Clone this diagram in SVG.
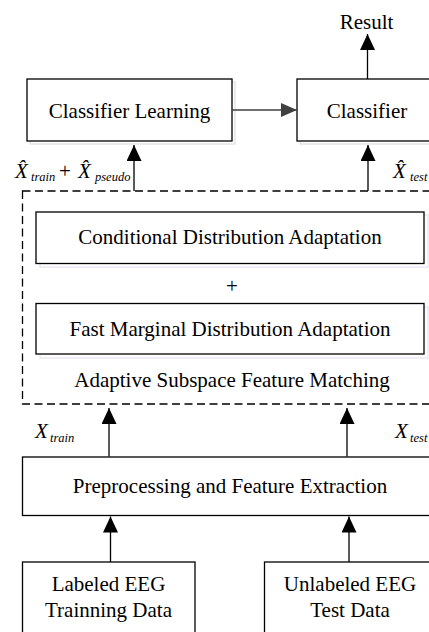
<svg xmlns="http://www.w3.org/2000/svg" width="429" height="632" viewBox="0 0 429 632">
<style>
.box{fill:#fff;stroke:#000;stroke-width:1.3}
.ghost{fill:none;stroke:#d8d8d8;stroke-width:1}
.ghostp{fill:none;stroke:#e4dcf0;stroke-width:1}
.t{font-family:"Liberation Serif","Times New Roman",serif;font-size:21px;fill:#000;text-anchor:middle}
.m{font-family:"Liberation Serif","Times New Roman",serif;font-style:italic;fill:#000;font-size:21px}
.s{font-size:12.5px}
.c{stroke:#000;stroke-width:1.3;fill:none}
</style>
<defs>
<marker id="ah" markerUnits="userSpaceOnUse" markerWidth="16" markerHeight="16" refX="16" refY="7.5" orient="auto">
<path d="M0,0 L16,7.5 L0,15 z" fill="#000"/>
</marker>
<marker id="ahg" markerUnits="userSpaceOnUse" markerWidth="16" markerHeight="16" refX="16" refY="7" orient="auto">
<path d="M0,0 L16,7 L0,14 z" fill="#404040"/>
</marker>
</defs>
<rect width="429" height="632" fill="#fff"/>

<g id="classifier-learning">
<rect class="ghost" x="30" y="82" width="205" height="62"/>
<rect class="box" x="27" y="79" width="205" height="62"/>
<text class="t" x="129.5" y="117.5">Classifier Learning</text>
</g>
<g id="classifier">
<rect class="ghost" x="300" y="82" width="140" height="62"/>
<rect class="box" x="297" y="79" width="140" height="62"/>
<text class="t" x="367" y="117.5">Classifier</text>
</g>
<g id="result">
<text class="t" x="366.5" y="29">Result</text>
</g>

<g id="adaptive-subspace">
<rect x="22.5" y="191" width="416" height="213" fill="none" stroke="#000" stroke-width="1.3" stroke-dasharray="8,4.5"/>
<text class="t" x="232" y="387">Adaptive Subspace Feature Matching</text>
<text class="t" x="232" y="293">+</text>
</g>
<g id="cda">
<rect class="ghostp" x="40" y="215" width="388" height="52"/>
<rect class="box" x="36" y="212" width="388" height="51.5"/>
<text class="t" x="230" y="244">Conditional Distribution Adaptation</text>
</g>
<g id="fmda">
<rect class="ghostp" x="40" y="307" width="388" height="51"/>
<rect class="box" x="36" y="303.5" width="388" height="50.5"/>
<text class="t" x="230" y="335.5">Fast Marginal Distribution Adaptation</text>
</g>

<g id="preprocessing">
<rect class="box" x="22.5" y="457" width="416" height="58.5"/>
<text class="t" x="230" y="493">Preprocessing and Feature Extraction</text>
</g>
<g id="labeled">
<rect class="box" x="22.5" y="562" width="172.5" height="80"/>
<text class="t" x="108.5" y="590.5">Labeled EEG</text>
<text class="t" x="108.5" y="617">Trainning Data</text>
</g>
<g id="unlabeled">
<rect class="box" x="264.5" y="562" width="172" height="80"/>
<text class="t" x="350" y="590.5">Unlabeled EEG</text>
<text class="t" x="350" y="617">Test Data</text>
</g>

<g id="labels">
<text class="m" x="15" y="178">X&#x302;<tspan class="s" x="31" y="181">train</tspan><tspan font-style="normal" x="59" y="178">+</tspan><tspan x="78" y="178">X&#x302;</tspan><tspan class="s" x="95" y="181">pseudo</tspan></text>
<text class="m" x="393" y="178">X&#x302;<tspan class="s" x="410" y="181">test</tspan></text>
<text class="m" x="35" y="438">X<tspan class="s" x="50" y="442">train</tspan></text>
<text class="m" x="395" y="438">X<tspan class="s" x="410" y="442">test</tspan></text>
</g>

<g id="connectors">
<line class="c" x1="367.5" y1="79" x2="367.5" y2="34" marker-end="url(#ah)"/>
<line x1="232" y1="110" x2="297" y2="110" stroke="#404040" stroke-width="1.3" marker-end="url(#ahg)"/>
<line class="c" x1="134" y1="191" x2="134" y2="145" marker-end="url(#ah)"/>
<line class="c" x1="368" y1="191" x2="368" y2="145" marker-end="url(#ah)"/>
<line class="c" x1="109" y1="456.5" x2="109" y2="408" marker-end="url(#ah)"/>
<line class="c" x1="347" y1="456.5" x2="347" y2="408" marker-end="url(#ah)"/>
<line class="c" x1="110.5" y1="562" x2="110.5" y2="516.5" marker-end="url(#ah)"/>
<line class="c" x1="349" y1="562" x2="349" y2="516.5" marker-end="url(#ah)"/>
</g>
</svg>
